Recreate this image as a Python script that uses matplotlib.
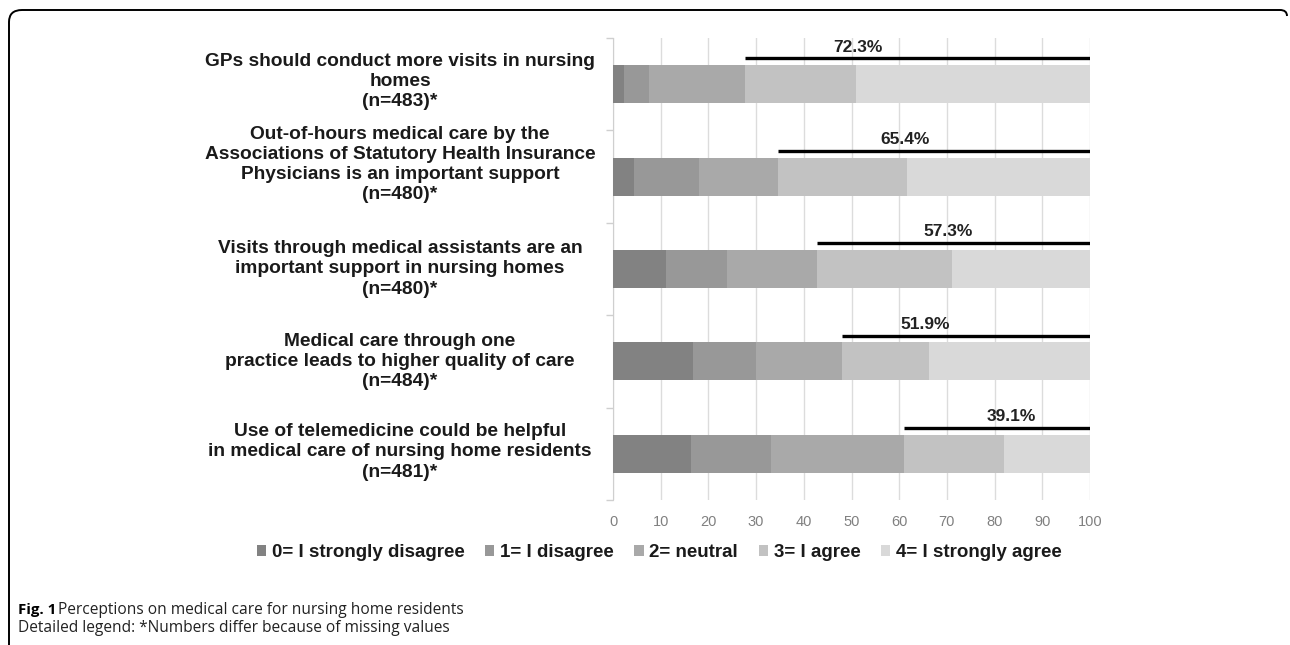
import numpy as np
import matplotlib.pyplot as plt
from matplotlib.path import Path
from matplotlib.patches import PathPatch
import matplotlib.transforms as mtransforms

# statements (top to bottom)
statements = [
    "GPs should conduct more visits in nursing\nhomes\n(n=483)*",
    "Out-of-hours medical care by the\nAssociations of Statutory Health Insurance\nPhysicians is an important support\n(n=480)*",
    "Visits through medical assistants are an\nimportant support in nursing homes\n(n=480)*",
    "Medical care through one\npractice leads to higher quality of care\n(n=484)*",
    "Use of telemedicine could be helpful\nin medical care of nursing home residents\n(n=481)*",
]
answer_labels = ["0= I strongly disagree", "1= I disagree", "2= neutral",
                 "3= I agree", "4= I strongly agree"]

# percentages per answer category
strongly_disagree = [2.4, 4.5, 11.2, 16.7, 16.4]
disagree = [5.2, 13.5, 12.6, 13.2, 16.7]
neutral = [20.1, 16.6, 18.9, 18.2, 27.8]
agree = [23.2, 27.1, 28.3, 18.1, 21.0]
strongly_agree = [49.1, 38.3, 29.0, 33.8, 18.1]
agree_total = [72.3, 65.4, 57.3, 51.9, 39.1]

colors = ["#828282", "#989898", "#a9a9a9", "#c2c2c2", "#d9d9d9"]
label_x = [51.4, 61.2, 70.3, 65.5, 83.5]   # where the % labels sit
label_shift = [0.03, 0.13, 0, 0, 0.02]     # statement labels nudged up a bit

plt.rcParams['font.family'] = ['Liberation Sans', 'DejaVu Sans']

fig = plt.figure(figsize=(12.9, 6.45), dpi=100)
ax = fig.add_axes([0.4752, 0.2248, 0.3698, 0.7163])

series = [strongly_disagree, disagree, neutral, agree, strongly_agree]
y = np.arange(len(statements))
left = np.zeros(len(statements))
for vals, col, lab in zip(series, colors, answer_labels):
    ax.barh(y, vals, left=left, height=0.41, color=col, label=lab, zorder=3)
    left += np.array(vals)

# black lines marking the share of agreement
for i, tot in enumerate(agree_total):
    ax.hlines(y[i] - 0.28, 100 - tot, 100, color='black', lw=2.4, zorder=4)
    ax.text(label_x[i], y[i] - 0.32, "%.1f%%" % tot, ha='center', va='bottom',
            fontsize=12.5, fontweight='bold', color='#222222')

ax.set_xlim(0, 100)
ax.set_ylim(len(statements) - 0.5, -0.5)
ax.set_xticks(np.arange(0, 101, 10))
ax.tick_params(axis='x', length=0, labelcolor='#808080', labelsize=10.5, pad=11)
ax.set_yticks(y)
ax.set_yticklabels([])
ax.tick_params(axis='y', which='major', length=0)
ax.set_yticks(np.arange(-0.5, len(statements)), minor=True)
ax.tick_params(axis='y', which='minor', length=5, color='#cfcfcf', width=1)
ax.grid(axis='x', color='#dcdcdc', lw=1, zorder=0)
for s in ['top', 'right', 'bottom']:
    ax.spines[s].set_visible(False)
ax.spines['left'].set_color('#cfcfcf')

# statement labels, centred left of the axis
trans = mtransforms.blended_transform_factory(ax.transAxes, ax.transData)
for i, txt in enumerate(statements):
    ax.text(-0.4465, y[i] - label_shift[i], txt, transform=trans, ha='center', va='center',
            fontsize=13.8, fontweight='bold', color='#1a1a1a', linespacing=1.25)

leg = fig.legend(loc='center', bbox_to_anchor=(0.511, 0.143), ncol=5, frameon=False,
                 prop={'weight': 'bold', 'size': 13.5}, handlelength=0.5, handleheight=0.5,
                 handletextpad=0.3, columnspacing=1.1)
for t in leg.get_texts():
    t.set_color('#1a1a1a')

# caption
cap_font = ['Open Sans', 'DejaVu Sans']
fig.text(18 / 1290, 1 - 610 / 645, "Fig. 1", fontweight='bold', fontsize=10.8,
         va='center', color='black', family=cap_font)
fig.text(58 / 1290, 1 - 610 / 645, "Perceptions on medical care for nursing home residents",
         fontsize=11.2, va='center', color='#222222', family=cap_font,
         fontstretch='semi-condensed')
fig.text(18 / 1290, 1 - 628 / 645, "Detailed legend: *Numbers differ because of missing values",
         fontsize=11.2, va='center', color='#222222', family=cap_font,
         fontstretch='semi-condensed')

# open frame with rounded corner top-left
W, H = 1290, 645
pts = [(9, 645), (9, 22), (9, 10), (22, 10), (1280, 10), (1287, 10), (1287, 16)]
codes = [Path.MOVETO, Path.LINETO, Path.CURVE3, Path.CURVE3, Path.LINETO,
         Path.CURVE3, Path.CURVE3]
verts = [(px / W, 1 - py / H) for px, py in pts]
fig.add_artist(PathPatch(Path(verts, codes), fill=False, lw=1.4, ec='black',
                         transform=fig.transFigure))

fig.savefig('out.png', dpi=100)
